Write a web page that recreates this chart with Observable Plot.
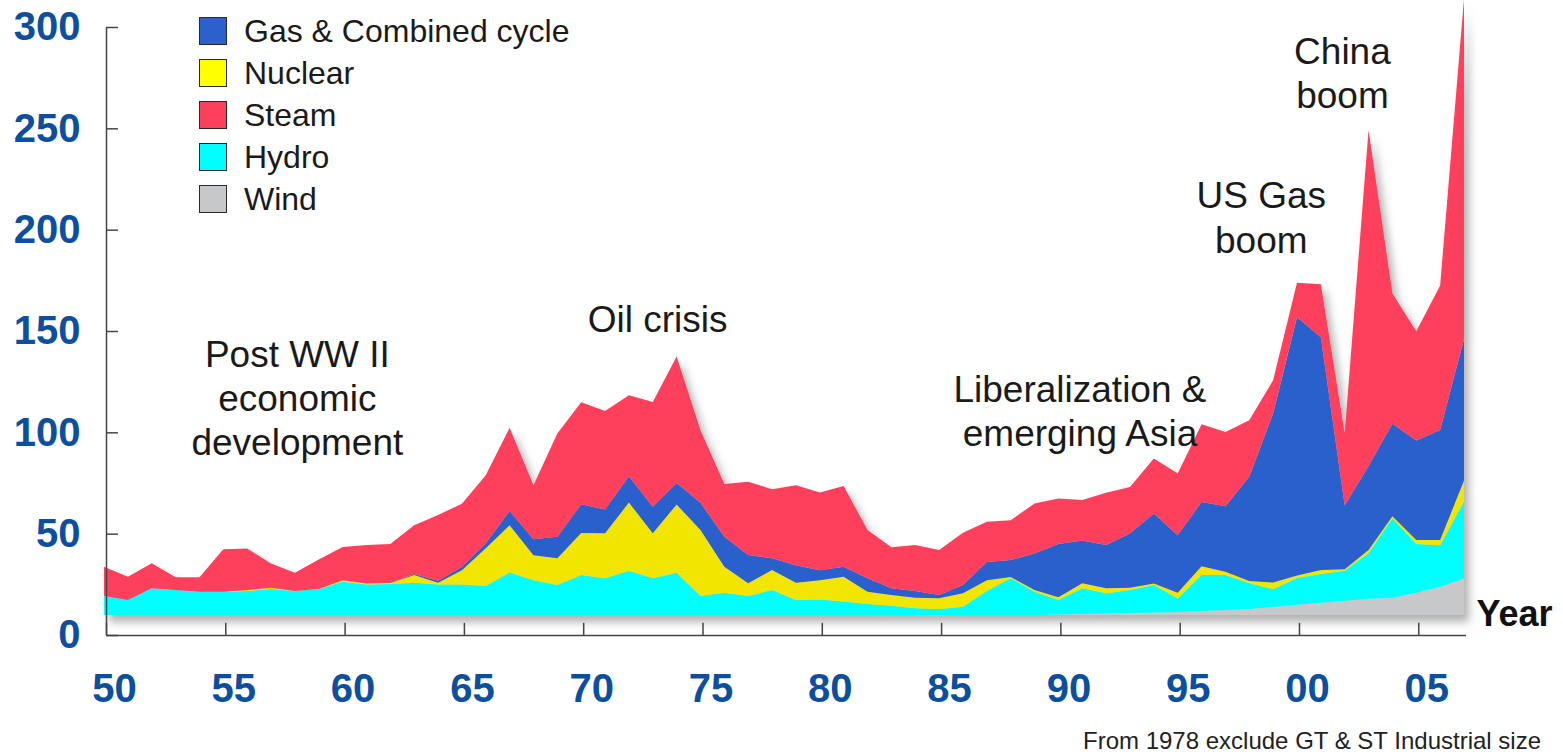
<!DOCTYPE html>
<html>
<head>
<meta charset="utf-8">
<script src="https://cdn.jsdelivr.net/npm/d3@7"></script>
<script src="https://cdn.jsdelivr.net/npm/@observablehq/plot@0.6"></script>
<style>
  html, body { margin: 0; padding: 0; background: #fff; }
  #wrap { position: relative; width: 1563px; height: 756px; overflow: hidden; font-family: "Liberation Sans", Arial, Helvetica, sans-serif; }
  #legend { position: absolute; left: 199px; top: 10px; }
  .row { display: flex; align-items: center; height: 42px; }
  .sw { width: 26px; height: 26px; border: 1.5px solid #2a2a2a; box-sizing: content-box; }
  .lab { margin-left: 17px; font-size: 32px; color: #1a1a1a; line-height: 42px; white-space: nowrap; }
  #caption { position: absolute; right: 22px; top: 727px; font-size: 24px; color: #222; white-space: nowrap; }
</style>
</head>
<body>
<div id="wrap"></div>
<script>
// ---- data (yearly additions per technology) ----
const years = [1950,1951,1952,1953,1954,1955,1956,1957,1958,1959,
               1960,1961,1962,1963,1964,1965,1966,1967,1968,1969,
               1970,1971,1972,1973,1974,1975,1976,1977,1978,1979,
               1980,1981,1982,1983,1984,1985,1986,1987,1988,1989,
               1990,1991,1992,1993,1994,1995,1996,1997,1998,1999,
               2000,2001,2002,2003,2004,2005,2006,2007];
const wind = [0,0,0,0,0,0,0,0,0,0,
              0,0,0,0,0,0,0,0,0,0,
              0,0,0,0,0,0,0,0,0,0,
              0,0,0,0,0,0,0,0,0,0,
              0.3,0.5,0.7,1.0,1.2,1.5,2.0,2.5,3.0,4.0,
              5.0,6.0,7.0,8.0,8.5,11.0,14.0,18.0];
const hydro = [9.4,7.4,13.2,12.3,11.5,11.5,11.8,12.8,11.8,12.8,
               16.4,15.1,15.3,15.9,15.1,15.1,14.3,21.0,17.2,14.8,
               19.7,18.1,21.8,18.1,20.8,9.4,11.0,9.4,12.3,7.4,
               7.7,6.6,5.4,4.6,3.3,3.0,4.1,11.8,18.1,11.5,
               7.1,12.7,10.0,11.3,13.6,6.7,17.7,17.2,12.7,8.7,
               13.3,14.2,14.8,22.5,39.2,24.0,20.4,38.0];
const nuclear = [0,0,0,0,0,0,0.5,0.7,0,0,
                 0.8,0.4,0.5,3.8,0.8,7.0,18.6,23.3,12.3,13.2,
                 20.8,22.2,33.7,22.2,33.7,32.5,12.8,6.3,9.9,8.5,
                 9.5,12.3,6.1,5.3,5.2,5.3,6.6,5.4,0.6,0.8,
                 1.3,2.5,2.5,1.1,0.8,2.8,4.4,1.6,1.1,3.3,
                 1.2,2.0,0.8,1.6,1.0,2.0,2.6,10.4];
const gas = [0,0,0,0,0,0,0,0,0,0,
             0,0,0,0.5,1.0,1.6,2.5,7.0,7.9,10.6,
             14.1,11.8,13.0,13.1,10.6,13.5,14.8,13.9,5.8,8.7,
             4.9,4.9,6.6,3.3,3.3,1.6,4.1,8.9,8.4,18.1,
             26.3,21.0,21.3,26.8,34.5,28.4,31.7,32.4,51.4,83.4,
             127.4,114.9,31.4,41.4,45.7,49.1,54.3,69.7];
const steam = [14.4,11.5,12.3,6.3,7.1,20.9,20.5,11.9,9.0,14.6,
               16.4,19.0,19.2,24.1,32.4,31.2,33.6,41.1,26.6,50.9,
               50.4,48.6,39.9,51.7,62.4,35.7,26.0,36.1,34.0,39.4,
               38.3,39.8,23.8,20.2,22.7,22.2,25.8,19.9,19.7,24.6,
               22.5,20.0,25.8,23.0,27.1,30.4,38.3,36.6,27.9,16.4,
               17.1,26.1,35.7,165.8,64.2,53.9,71.3,168.0];

// stacking order, bottom to top
const seriesNames = ["Wind", "Hydro", "Nuclear", "Gas & Combined cycle", "Steam"];
const seriesValues = [wind, hydro, nuclear, gas, steam];
// legend order, top to bottom
const legendOrder = ["Gas & Combined cycle", "Nuclear", "Steam", "Hydro", "Wind"];

const xTicks = [1950,1955,1960,1965,1970,1975,1980,1985,1990,1995,2000,2005];
const xTickLabels = ["50","55","60","65","70","75","80","85","90","95","00","05"];
const yTicks = [0,50,100,150,200,250,300];

// ---- styles ----
const fillColors = {
  "Wind": "#c7c8ca",
  "Hydro": "#00ffff",
  "Nuclear": "#f2e500",
  "Gas & Combined cycle": "#2c60cc",
  "Steam": "#ff405c"
};
const legendColors = {
  "Wind": "#c7c8ca",
  "Hydro": "#00ffff",
  "Nuclear": "#ffff00",
  "Gas & Combined cycle": "#2c60cc",
  "Steam": "#ff405c"
};
const blue = "#0b4f9e";
const axisColor = "#444";

const table = years.flatMap((yr, i) =>
  seriesNames.map((name, k) => ({year: yr, type: name, value: seriesValues[k][i]}))
);

const chart = Plot.plot({
  width: 1563,
  height: 756,
  marginLeft: 106,
  marginRight: 97,
  marginTop: 27,
  marginBottom: 121,
  x: {domain: [1950, 2007], axis: null},
  y: {domain: [0, 300], axis: null},
  color: {domain: seriesNames, range: seriesNames.map(n => fillColors[n])},
  style: {fontFamily: '"Liberation Sans", Arial, Helvetica, sans-serif', background: "white", overflow: "hidden"},
  marks: [
    Plot.areaY(table, Plot.stackY({x: "year", y: "value", z: "type", fill: "type", order: seriesNames, dx: -2, dy: -20})),
    Plot.ruleY([0], {stroke: axisColor, strokeWidth: 1.5}),
    Plot.ruleX([1950], {stroke: axisColor, strokeWidth: 1.5}),
    Plot.ruleX(xTicks, {x: d => d, y1: 0, y2: 6, stroke: axisColor, strokeWidth: 1.5}),
    Plot.ruleY(yTicks, {y: d => d, x1: 1950, x2: 1950.5, stroke: axisColor, strokeWidth: 1.5}),
    Plot.text(xTicks, {x: d => d, text: (d, i) => xTickLabels[i], frameAnchor: "bottom", dy: 66, dx: 8,
      fill: blue, fontSize: 40, fontWeight: "bold"}),
    Plot.text(yTicks, {y: d => d, text: d => String(d), frameAnchor: "left", textAnchor: "end", dx: -26,
      fill: blue, fontSize: 40, fontWeight: "bold"}),
    Plot.text(["Year"], {frameAnchor: "bottom-right", textAnchor: "start", dx: 10, dy: -10,
      fontSize: 36, fontWeight: "bold", fill: "#111"}),
    Plot.text(["Post WW II\neconomic\ndevelopment"], {x: 1958.0, y: 117.9, fontSize: 37, lineHeight: 1.19, fill: "#1a1a1a"}),
    Plot.text(["Oil crisis"], {x: 1973.1, y: 155.8, fontSize: 37, fill: "#1a1a1a"}),
    Plot.text(["Liberalization &\nemerging Asia"], {x: 1990.8, y: 111.4, fontSize: 37, lineHeight: 1.19, fill: "#1a1a1a"}),
    Plot.text(["US Gas\nboom"], {x: 1998.4, y: 206.9, fontSize: 37, lineHeight: 1.21, fill: "#1a1a1a"}),
    Plot.text(["China\nboom"], {x: 2001.8, y: 278.1, fontSize: 37, lineHeight: 1.19, fill: "#1a1a1a"})
  ]
});

// soft drop shadow under the stacked areas
const ns = "http://www.w3.org/2000/svg";
const defs = document.createElementNS(ns, "defs");
defs.innerHTML = '<filter id="areaShadow" x="-5%" y="-5%" width="115%" height="120%">' +
  '<feDropShadow dx="5" dy="7" stdDeviation="4" flood-color="#000" flood-opacity="0.3"/></filter>';
chart.insertBefore(defs, chart.firstChild);
const areaGroup = chart.querySelector('g[aria-label="area"]');
if (areaGroup) areaGroup.setAttribute("filter", "url(#areaShadow)");

const wrap = document.getElementById("wrap");
wrap.appendChild(chart);

// legend
const legend = document.createElement("div");
legend.id = "legend";
for (const name of legendOrder) {
  const row = document.createElement("div");
  row.className = "row";
  const sw = document.createElement("div");
  sw.className = "sw";
  sw.style.background = legendColors[name];
  const lab = document.createElement("div");
  lab.className = "lab";
  lab.textContent = name;
  row.appendChild(sw);
  row.appendChild(lab);
  legend.appendChild(row);
}
wrap.appendChild(legend);

// caption
const cap = document.createElement("div");
cap.id = "caption";
cap.textContent = "From 1978 exclude GT & ST Industrial size";
wrap.appendChild(cap);
</script>
</body>
</html>
